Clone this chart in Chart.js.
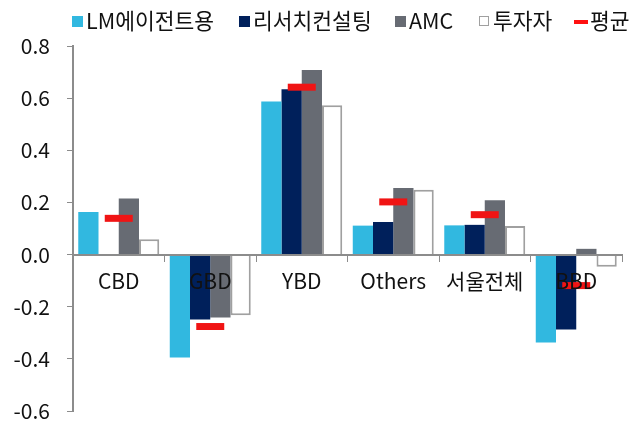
<!DOCTYPE html>
<html>
<head>
<meta charset="utf-8">
<script src="https://cdn.jsdelivr.net/npm/chart.js@4/dist/chart.umd.min.js"></script>
<style>
  html, body { margin: 0; padding: 0; background: #fff; }
</style>
</head>
<body>
<canvas id="chart" width="632" height="421"></canvas>
<script>
// categories and series
const categories = ['CBD', 'GBD', 'YBD', 'Others', '서울전체', 'BBD'];
const lmAgent   = [0.163, -0.395, 0.587, 0.111, 0.112, -0.337];
const research  = [0, -0.249, 0.634, 0.125, 0.114, -0.287];
const amc       = [0.215, -0.241, 0.708, 0.255, 0.208, 0.022];
const investor  = [0.059, -0.233, 0.573, 0.249, 0.110, -0.047];
const average   = [0.139, -0.276, 0.642, 0.202, 0.153, -0.119];

const yTicks = [0.8, 0.6, 0.4, 0.2, 0.0, -0.2, -0.4, -0.6];

const FONT = '"Noto Sans CJK KR", "Noto Sans", sans-serif';
const axisGrey = '#8c8c8c';

// legend drawn by hand: tight box-to-text gap like the original
const legendX = [72, 239, 395, 479, 574];
const legendPlugin = {
    id: 'tightLegend',
    afterDraw(chart) {
        const c = chart.ctx;
        const y = 21;
        c.save();
        c.font = '21.5px ' + FONT;
        c.textBaseline = 'middle';
        chart.data.datasets.forEach((ds, i) => {
            let x = legendX[i];
            if (ds.type === 'line') {
                c.fillStyle = ds.borderColor;
                c.fillRect(x, y - 1, 14, 4);
                x += 16;
            } else if (ds.borderWidth) {
                c.fillStyle = '#fff';
                c.fillRect(x, y - 5, 10, 10);
                c.strokeStyle = ds.borderColor;
                c.lineWidth = 1;
                c.strokeRect(x + 0.5, y - 4.5, 9, 9);
                x += 14;
            } else {
                c.fillStyle = ds.backgroundColor;
                c.fillRect(x, y - 5, 11, 11);
                x += 14;
            }
            c.fillStyle = '#111';
            c.fillText(ds.label, x, y);
        });
        c.restore();
    }
};

// drop the half-label padding that chart.js keeps round the plot
const noPad = (scale) => {
    scale.paddingTop = 0;
    scale.paddingBottom = 0;
    scale.paddingLeft = 0;
    scale.paddingRight = 0;
};

const ctx = document.getElementById('chart').getContext('2d');
new Chart(ctx, {
    type: 'bar',
    data: {
        labels: categories,
        datasets: [
            { label: 'LM에이전트용', data: lmAgent, backgroundColor: '#31b8e0', borderWidth: 0, order: 2 },
            { label: '리서치컨설팅', data: research, backgroundColor: '#00205b', borderWidth: 0, order: 2 },
            { label: 'AMC', data: amc, backgroundColor: '#676b73', borderWidth: 0, order: 2 },
            { label: '투자자', data: investor, backgroundColor: '#ffffff', borderColor: '#a0a0a0', borderWidth: 2, order: 2 },
            {
                type: 'line',
                label: '평균',
                data: average,
                showLine: false,
                clip: false,
                borderColor: '#ff1010',
                backgroundColor: '#ff1010',
                pointStyle: 'line',
                pointRadius: 14,
                pointHoverRadius: 14,
                pointBorderWidth: 7,
                pointBorderColor: '#f01414',
                order: 1
            }
        ]
    },
    options: {
        responsive: false,
        animation: false,
        layout: { autoPadding: false, padding: { top: 46, right: 10, bottom: 10, left: 0 } },
        datasets: {
            bar: { categoryPercentage: 0.885, barPercentage: 1.0 }
        },
        plugins: {
            tooltip: { enabled: false },
            legend: { display: false }
        },
        scales: {
            x: {
                position: { y: 0 },
                afterFit: noPad,
                grid: {
                    drawOnChartArea: false,
                    drawTicks: true,
                    tickLength: 6,
                    tickColor: axisGrey,
                    offset: true
                },
                border: { color: axisGrey, width: 2, z: 1 },
                ticks: {
                    z: 1,
                    color: '#111',
                    padding: 8,
                    font: { family: FONT, size: 21 }
                }
            },
            y: {
                min: -0.6,
                max: 0.8,
                afterBuildTicks: (scale) => {
                    scale.ticks = yTicks.map(v => ({ value: v }));
                },
                afterFit: (scale) => { noPad(scale); scale.width = 73; },
                grid: {
                    drawOnChartArea: false,
                    tickLength: 6,
                    tickColor: axisGrey
                },
                border: { color: axisGrey, width: 2 },
                ticks: {
                    color: '#111',
                    padding: 17,
                    font: { family: FONT, size: 21 },
                    callback: (v) => Number(v).toFixed(1)
                }
            }
        }
    },
    plugins: [legendPlugin]
});
</script>
</body>
</html>
